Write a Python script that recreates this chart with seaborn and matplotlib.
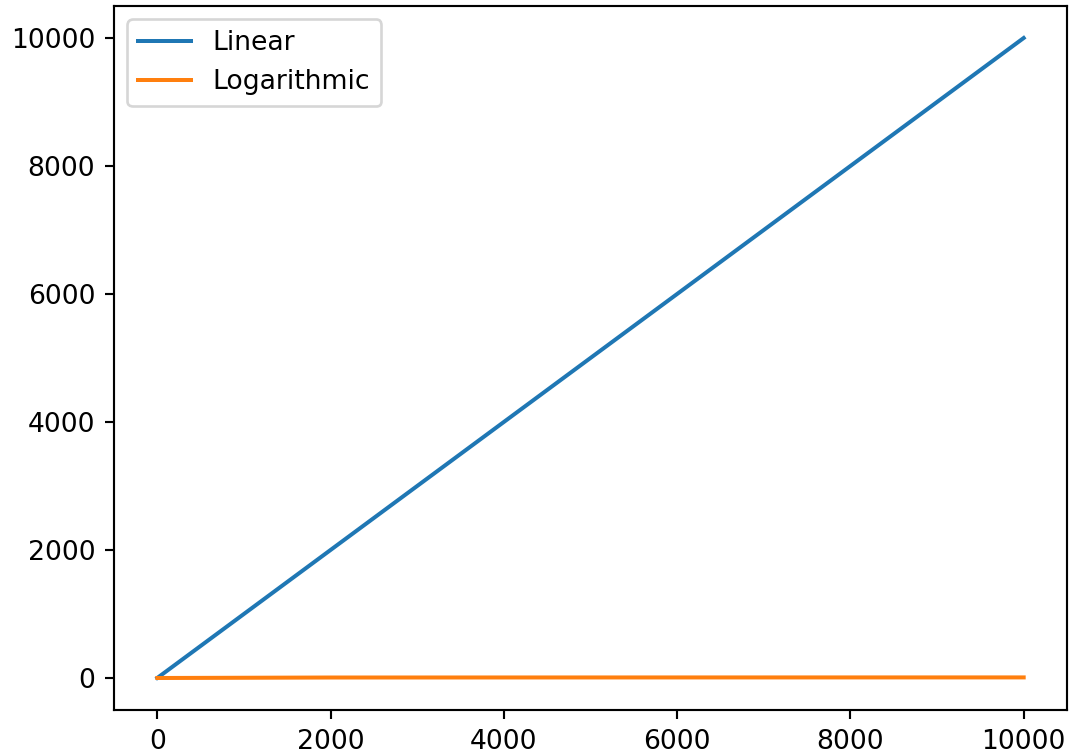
import matplotlib
matplotlib.use("Agg")
import matplotlib.pyplot as plt
import seaborn as sns
import pandas as pd

x_values = [1, 2000, 4000, 6000, 8000, 10000]
linear_values = [1, 2000, 4000, 6000, 8000, 10000]
log_values = [0.0, 7.6, 8.3, 8.7, 9.0, 9.2]
series_names = ["Linear", "Logarithmic"]

df = pd.DataFrame({
    "x": x_values * 2,
    "y": linear_values + log_values,
    "series": [series_names[0]] * len(x_values) + [series_names[1]] * len(x_values),
})

fig = plt.figure(figsize=(1069 / 192, 756 / 192), dpi=192)
ax = fig.add_axes([114 / 1069, 1 - 710 / 756, (1067 - 114) / 1069, (710 - 6) / 756])
sns.lineplot(data=df, x="x", y="y", hue="series", palette=["#1f77b4", "#ff7f0e"], ax=ax)
ax.set_xlabel("")
ax.set_ylabel("")
ax.set_xticks([0, 2000, 4000, 6000, 8000, 10000])
ax.set_yticks([0, 2000, 4000, 6000, 8000, 10000])
ax.legend(loc="upper left")
fig.savefig("out.png", dpi=192)
